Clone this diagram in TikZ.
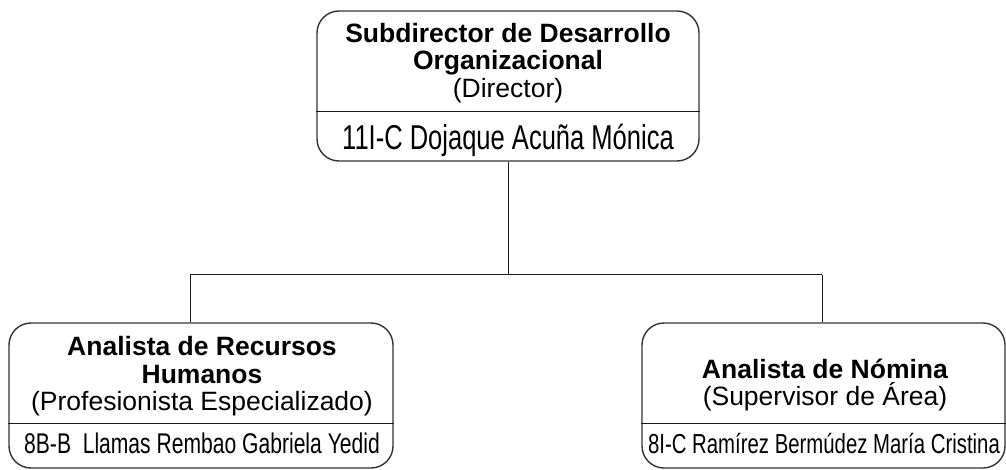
\documentclass[tikz,border=0pt]{standalone}
\usepackage{fontspec}
\setmainfont{Liberation Sans}
\newfontfamily\narrowfont{Liberation Sans}[FakeStretch=0.74]
\tikzset{
    puesto/.style={draw=black!80, line width=1.4pt, rounded corners=22pt, inner sep=0pt},
    titulo/.style={align=center, inner sep=0pt, font=\fontsize{26.5}{27.5}\selectfont},
    nombre/.style={inner sep=0pt, anchor=base, font=\narrowfont\fontsize{28.5}{30}\selectfont},
    linea/.style={draw=black!90, line width=1pt}
}
\begin{document}
\begin{tikzpicture}[x=1pt, y=-1pt]
            \useasboundingbox (0, 0) rectangle (1006, 470);
            \node [puesto, minimum width=382pt, minimum height=150pt] (dir) at (508, 86) {};
            \node [puesto, minimum width=384pt, minimum height=145pt] (rh) at (201, 395.5) {};
            \node [puesto, minimum width=363pt, minimum height=145pt] (nom) at (823.5, 395.5) {};
            \coordinate (dirdiv) at (508, 112);
            \coordinate (rhdiv) at (201, 423);
            \coordinate (nomdiv) at (823.5, 423);
            \draw [linea] (dir.west |- dirdiv) -- (dir.east |- dirdiv);
            \draw [linea] (rh.west |- rhdiv) -- (rh.east |- rhdiv);
            \draw [linea] (nom.west |- nomdiv) -- (nom.east |- nomdiv);
            \node [titulo] (dirtit) at (508, 63) {\textbf{Subdirector de Desarrollo}\\\textbf{Organizacional}\\(Director)};
            \node [nombre, font=\narrowfont\fontsize{34.5}{36}\selectfont] (dirnombre) at (508, 150) {11I-C Dojaque Acuña Mónica};
            \node [titulo] (rhtit) at (202, 376.5) {\textbf{Analista de Recursos}\\\textbf{Humanos}\\(Profesionista Especializado)};
            \node [nombre] (rhnombre) at (202, 453) {8B-B\ \ Llamas Rembao Gabriela Yedid};
            \node [titulo] (nomtit) at (825, 385) {\textbf{Analista de Nómina}\\(Supervisor de Área)};
            \node [nombre, font=\narrowfont\fontsize{27.5}{30}\selectfont] (nomnombre) at (824, 453) {8I-C Ramírez Bermúdez María Cristina};
            \coordinate (bus) at (508, 275);
            \coordinate (busl) at (190, 275);
            \coordinate (busr) at (822, 275);
            \draw [linea] (dir.south) -- (bus);
            \draw [linea] (busl) -- (busr);
            \draw [linea] (busl) -- (busl |- rh.north);
            \draw [linea] (busr) -- (busr |- nom.north);
\end{tikzpicture}
\end{document}
